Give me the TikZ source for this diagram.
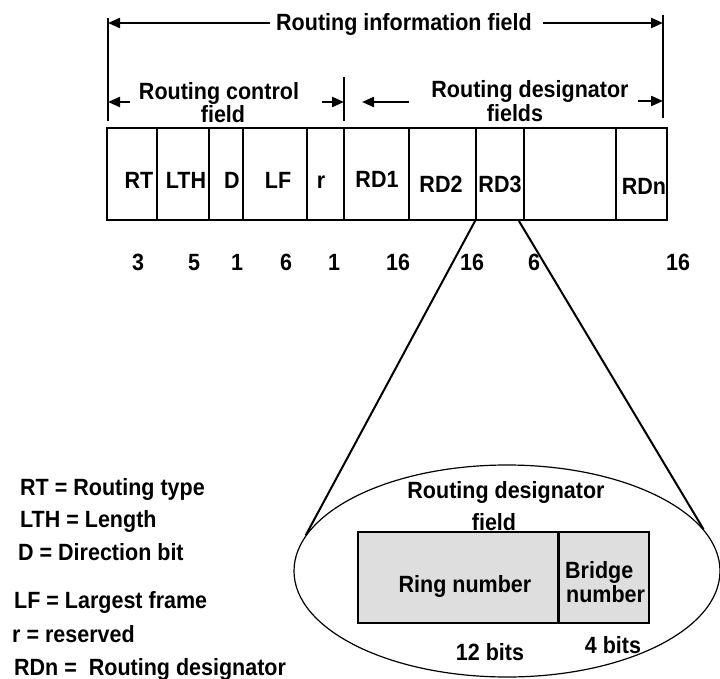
\documentclass[tikz,border=0pt]{standalone}
\usepackage{fontspec}
\setmainfont{Liberation Sans}[FakeStretch=0.915]
\usetikzlibrary{arrows.meta,shapes.geometric}
\begin{document}
\begin{tikzpicture}[x=1pt,y=-1pt,
  txt/.style={font=\bfseries\fontsize{23.5}{25}\selectfont, inner sep=0pt, anchor=base},
  ltxt/.style={txt, anchor=base west},
  cell/.style={draw, line width=1.8pt, minimum height=92pt, inner sep=0pt},
  gcell/.style={draw, fill=black!13, line width=1.6pt, minimum height=91pt, inner sep=0pt},
  barline/.style={line width=2.2pt},
  arr/.style={line width=2.2pt, -{Triangle[length=12pt,width=10pt]}},
  conn/.style={line width=2pt}]
\useasboundingbox (0,0) rectangle (720,679);

% dimension bars
\coordinate (barLt) at (108,18);  \coordinate (barLb) at (108,121);
\coordinate (barMt) at (344,77);  \coordinate (barMb) at (344,121);
\coordinate (barRt) at (663,15);  \coordinate (barRb) at (663,118);
\draw[barline] (barLt) -- (barLb);
\draw[barline] (barMt) -- (barMb);
\draw[barline] (barRt) -- (barRb);

% top dimension
\node[txt] (info) at (404,31) {Routing information field};
\coordinate (a1s) at (270,23); \coordinate (a1e) at (108,23);
\coordinate (a2s) at (543,23); \coordinate (a2e) at (663,23);
\draw[arr] (a1s) -- (a1e);
\draw[arr] (a2s) -- (a2e);

% second-level dimensions
\node[txt] (rcf1) at (219,100) {Routing control};
\node[txt] (rcf2) at (223,123) {field};
\node[txt] (rdf1) at (530,98) {Routing designator};
\node[txt] (rdf2) at (515,122) {fields};
\coordinate (b1s) at (130,102); \coordinate (b1e) at (108,102);
\coordinate (b2s) at (322,102); \coordinate (b2e) at (344,102);
\coordinate (b3s) at (409,102); \coordinate (b3e) at (362,102);
\coordinate (b4s) at (638,101); \coordinate (b4e) at (663,101);
\draw[arr] (b1s) -- (b1e);
\draw[arr] (b2s) -- (b2e);
\draw[arr] (b3s) -- (b3e);
\draw[arr] (b4s) -- (b4e);

% frame cells
\node[cell, minimum width=50pt] (rt)  at (132,174) {};
\node[cell, minimum width=52pt] (lth) at (183,174) {};
\node[cell, minimum width=34pt] (d)   at (226,174) {};
\node[cell, minimum width=64pt] (lf)  at (275,174) {};
\node[cell, minimum width=37pt] (r)   at (325.5,174) {};
\node[cell, minimum width=65pt] (rd1) at (376.5,174) {};
\node[cell, minimum width=67pt] (rd2) at (442.5,174) {};
\node[cell, minimum width=48pt] (rd3) at (500,174) {};
\node[cell, minimum width=92pt] (rdx) at (570,174) {};
\node[cell, minimum width=51pt] (rdn) at (641.5,174) {};

% cell labels
\node[txt] (lrt)  at (139,189) {RT};
\node[txt] (llth) at (186,189) {LTH};
\node[txt] (ld)   at (232,189) {D};
\node[txt] (llf)  at (278,189) {LF};
\node[txt] (lr)   at (321,189) {r};
\node[txt] (lrd1) at (377,188) {RD1};
\node[txt] (lrd2) at (441,193) {RD2};
\node[txt] (lrd3) at (500,193) {RD3};
\node[txt] (lrdn) at (644,195) {RDn};

% bit counts
\node[txt] (n1) at (138,270) {3};
\node[txt] (n2) at (194,270) {5};
\node[txt] (n3) at (237,270) {1};
\node[txt] (n4) at (286,270) {6};
\node[txt] (n5) at (334,270) {1};
\node[txt] (n6) at (398,270) {16};
\node[txt] (n7) at (472,270) {16};
\node[txt] (n8) at (534,270) {6};
\node[txt] (n9) at (678,270) {16};

% magnified ellipse
\node[draw, ellipse, line width=1.2pt, minimum width=426pt, minimum height=212pt, inner sep=0pt] (ell) at (507,571) {};
\coordinate (c2s) at ([xshift=-6pt]rd3.south east);
\draw[conn] (rd3.south west) -- (ell.170.8);
\draw[conn] (c2s) -- (ell.12.3);

\node[gcell, minimum width=200pt] (ring) at (458,577.5) {};
\node[gcell, minimum width=91pt] (bridge) at (603.5,577.5) {};
\draw[line width=2pt] (ring.north east) -- (ring.south east);

\node[txt] (rdt1) at (506,498) {Routing designator};
\node[txt] (rdt2) at (494,530) {field};
\node[txt] (ringt) at (465,592) {Ring number};
\node[ltxt] (brt1) at (565,578) {Bridge};
\node[ltxt] (brt2) at (566,602) {number};
\node[txt] (b12) at (490,660) {12 bits};
\node[txt] (b4) at (613,653) {4 bits};

% legend
\node[ltxt] (g1) at (20,495) {RT = Routing type};
\node[ltxt] (g2) at (20,527) {LTH = Length};
\node[ltxt] (g3) at (18,560) {D = Direction bit};
\node[ltxt] (g4) at (14,608) {LF = Largest frame};
\node[ltxt] (g5) at (12,642) {r = reserved};
\node[ltxt] (g6) at (14,675) {RDn =\ \ Routing designator};
\end{tikzpicture}
\end{document}
